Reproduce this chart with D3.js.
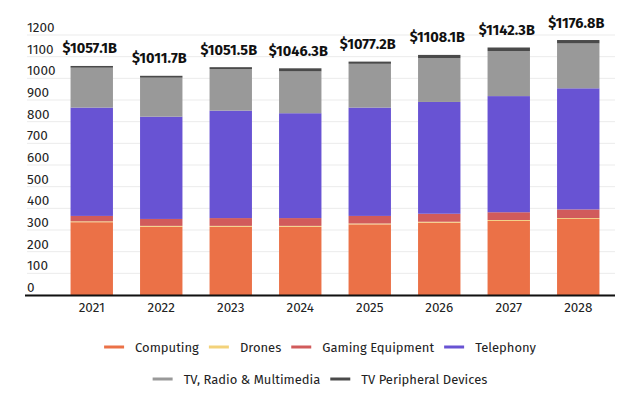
<!DOCTYPE html>
<html>
<head>
<meta charset="utf-8">
<script src="https://cdn.jsdelivr.net/npm/d3@7"></script>
<style>
	body { margin: 0; background: #fff; }
	text { font-family: "Fira Sans", "Open Sans", "Noto Sans", sans-serif; fill: #222; }
	.total { font-weight: 700; font-size: 14.5px; fill: #111; }
	.tick-label { font-size: 13.5px; }
	.legend-label { font-size: 13px; }
</style>
</head>
<body>
<div id="chart"></div>
<script>
	var years = ['2021', '2022', '2023', '2024', '2025', '2026', '2027', '2028'];
	var segments = ['Computing', 'Drones', 'Gaming Equipment', 'Telephony', 'TV, Radio & Multimedia', 'TV Peripheral Devices'];
	var colors = ['#eb7147', '#f3d27a', '#d15b5b', '#6853d3', '#999999', '#4a4a4a'];

	// values in $B, one array per segment, in year order
	var computing = [336, 315, 315, 315, 326, 334, 342, 351];
	var drones = [4, 4, 4, 4, 4, 4, 4, 4];
	var gaming = [25, 32, 36, 36, 35, 37, 36, 40];
	var telephony = [500, 472, 496, 484, 500, 516, 536, 559];
	var tvRadio = [184, 180, 192, 193, 202, 202, 208, 207];
	var tvPeripheral = [8.1, 8.7, 8.5, 14.3, 10.2, 15.1, 16.3, 15.8];
	var totals = [1057.1, 1011.7, 1051.5, 1046.3, 1077.2, 1108.1, 1142.3, 1176.8];
	var yTicks = [0, 100, 200, 300, 400, 500, 600, 700, 800, 900, 1000, 1100, 1200];

	var series = [computing, drones, gaming, telephony, tvRadio, tvPeripheral];

	var width = 640;
	var height = 404;

	var rows = years.map(function (year, i) {
		var row = { year: year };
		segments.forEach(function (s, j) {
			row[s] = series[j][i];
		});
		return row;
	});

	var stacked = d3.stack().keys(segments)(rows);

	var x = d3.scaleBand().domain(years).range([57, 613]).paddingInner(0.39).paddingOuter(0.195);
	var y = d3.scaleLinear().domain([0, 1200]).range([295, 35]);

	var svg = d3.select('#chart').append('svg')
		.attr('width', width)
		.attr('height', height);

	// grid lines and y labels
	var grid = svg.append('g');
	grid.selectAll('line')
		.data(yTicks)
		.enter().append('line')
		.attr('x1', 27)
		.attr('x2', 615)
		.attr('y1', function (d) { return y(d); })
		.attr('y2', function (d) { return y(d); })
		.attr('stroke', '#ebebeb')
		.attr('stroke-width', 1);

	grid.selectAll('text')
		.data(yTicks)
		.enter().append('text')
		.attr('class', 'tick-label')
		.attr('x', 27)
		.attr('y', function (d) { return y(d) - 3; })
		.text(function (d) { return d; });

	// stacked bars
	svg.append('g').selectAll('g')
		.data(stacked)
		.enter().append('g')
		.attr('fill', function (d, i) { return colors[i]; })
		.selectAll('rect')
		.data(function (d) { return d; })
		.enter().append('rect')
		.attr('x', function (d) { return x(d.data.year); })
		.attr('width', x.bandwidth())
		.attr('y', function (d) { return y(d[1]); })
		.attr('height', function (d) { return y(d[0]) - y(d[1]); });

	// baseline
	svg.append('line')
		.attr('x1', 25)
		.attr('x2', 615)
		.attr('y1', y(0) + 0.5)
		.attr('y2', y(0) + 0.5)
		.attr('stroke', '#111')
		.attr('stroke-width', 2);

	// x axis labels
	svg.append('g').selectAll('text')
		.data(years)
		.enter().append('text')
		.attr('class', 'tick-label')
		.attr('text-anchor', 'middle')
		.attr('x', function (d) { return x(d) + x.bandwidth() / 2; })
		.attr('y', 312)
		.text(function (d) { return d; });

	// totals above bars
	svg.append('g').selectAll('text')
		.data(years)
		.enter().append('text')
		.attr('class', 'total')
		.attr('text-anchor', 'middle')
		.attr('x', function (d) { return x(d) + x.bandwidth() / 2 - 2; })
		.attr('y', function (d, i) { return y(totals[i]) - 12.5; })
		.text(function (d, i) { return '$' + totals[i].toFixed(1) + 'B'; });

	// legend, two centred rows
	var legendRows = [[0, 1, 2, 3], [4, 5]];
	var legendY = [347, 379];
	legendRows.forEach(function (items, r) {
		var g = svg.append('g');
		var cursor = 0;
		items.forEach(function (k) {
			var item = g.append('g').attr('transform', 'translate(' + cursor + ',0)');
			item.append('line')
				.attr('x1', 0)
				.attr('x2', 20)
				.attr('y1', 0)
				.attr('y2', 0)
				.attr('stroke', colors[k])
				.attr('stroke-width', 3);
			var label = item.append('text')
				.attr('class', 'legend-label')
				.attr('x', 31)
				.attr('y', 4.5)
				.text(segments[k]);
			cursor += 31 + label.node().getComputedTextLength() + 10;
		});
		var total = cursor - 10;
		g.attr('transform', 'translate(' + (width / 2 - total / 2) + ',' + legendY[r] + ')');
	});
</script>
</body>
</html>
